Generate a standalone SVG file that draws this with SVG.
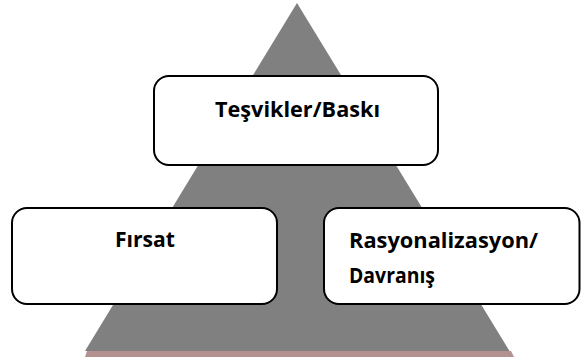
<svg xmlns="http://www.w3.org/2000/svg" width="581" height="358" viewBox="0 0 581 358">
<style>
.box{fill:#ffffff;stroke:#000000;stroke-width:2}
.lbl{font-family:"Open Sans","Noto Sans","DejaVu Sans",sans-serif;font-weight:bold;font-size:22px;fill:#000000}
</style>
<rect width="581" height="358" fill="#ffffff"/>
<g id="pyramid">
<polygon points="87,351 511,351 514,357 85,357" fill="#b39191"/>
<polygon points="297,3 509.5,351 85,351" fill="#808080"/>
</g>
<g id="connectors"></g>
<g id="node-tesvikler">
<rect class="box" x="154" y="76" width="284" height="89" rx="15" ry="15"/>
<text class="lbl" x="215" y="117" textLength="165" lengthAdjust="spacingAndGlyphs">Teşvikler/Baskı</text>
</g>
<g id="node-firsat">
<rect class="box" x="12" y="208" width="265" height="96" rx="15" ry="15"/>
<text class="lbl" x="115" y="247" textLength="60" lengthAdjust="spacingAndGlyphs">Fırsat</text>
</g>
<g id="node-rasyonalizasyon">
<rect class="box" x="324" y="208" width="255.5" height="96" rx="15" ry="15"/>
<text class="lbl" x="349" y="248" textLength="189" lengthAdjust="spacingAndGlyphs">Rasyonalizasyon/</text>
<text class="lbl" x="349" y="283" textLength="86" lengthAdjust="spacingAndGlyphs">Davranış</text>
</g>
</svg>
